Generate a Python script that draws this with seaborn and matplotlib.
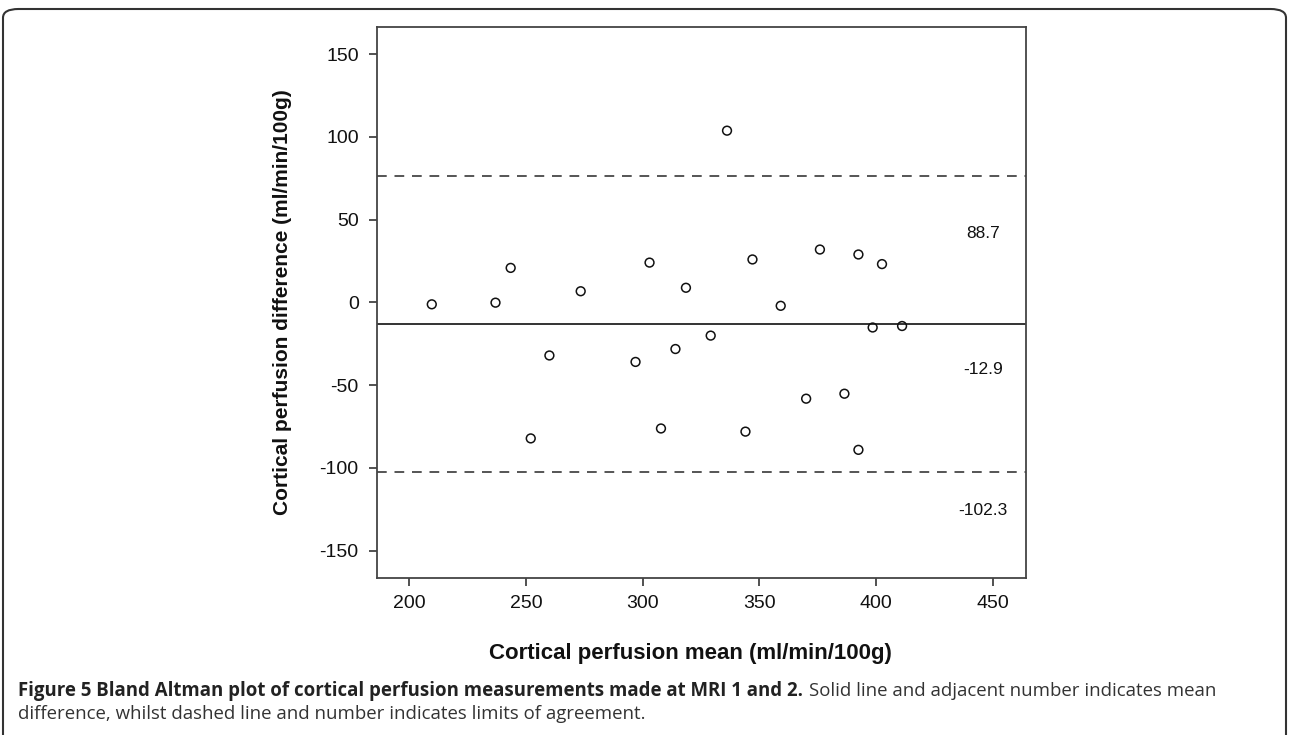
import numpy as np
import pandas as pd
import matplotlib.pyplot as plt
import seaborn as sns
from matplotlib.patches import FancyBboxPatch

# values
perf_mean = [209.6, 236.9, 243.4, 273.4, 260.0, 252.0, 296.9, 302.9, 307.8, 314.0, 318.5, 329.1,
             336.1, 344.0, 347.0, 359.1, 370.0, 375.9, 386.4, 392.4, 392.4, 398.5, 402.5, 411.1]
perf_diff = [-1.2, -0.2, 20.8, 6.7, -32.1, -82.2, -36.0, 24.0, -76.2, -28.2, 8.8, -20.1,
             103.7, -78.1, 25.9, -2.1, -58.2, 31.9, -55.2, 28.9, -89.1, -15.2, 23.1, -14.3]
mean_line = -12.9
limit_lines = [76.5, -102.3]
line_labels = ['88.7', '-12.9', '-102.3']
xticks = [200, 250, 300, 350, 400, 450]
yticks = [-150, -100, -50, 0, 50, 100, 150]

df = pd.DataFrame({'mean': perf_mean, 'diff': perf_diff})

sns.set_style('white')
plt.rcParams['font.family'] = ['Liberation Sans', 'DejaVu Sans']
plt.rcParams['axes.unicode_minus'] = False

fig = plt.figure(figsize=(12.89, 7.35), dpi=100)
ax = fig.add_axes([376.7 / 1289, 1 - 578.3 / 735, (1026 - 376.7) / 1289, (578.3 - 26.7) / 735])

sns.scatterplot(data=df, x='mean', y='diff', ax=ax, marker='o', s=40,
                facecolors='none', edgecolor='#111111', linewidth=1.1, zorder=3)

ax.axhline(mean_line, color='#333333', lw=1.4)
for v in limit_lines:
    ax.axhline(v, color='#555555', lw=1.4, ls=(0, (5, 4)))

# numbers beside the lines
label_y = [41.8, -40.4, -125.9]
for txt, yy in zip(line_labels, label_y):
    ax.text(445.7, yy, txt, ha='center', va='center', fontsize=12.5, color='#111111')

ax.set_xlim(186, 464.2)
ax.set_ylim(-166.7, 166.5)
ax.set_xticks(xticks)
ax.set_yticks(yticks)
ax.tick_params(axis='both', direction='out', length=6, width=1.2, color='#333333',
               labelsize=14, labelcolor='#111111', left=True, bottom=True)
ax.tick_params(axis='y', pad=7)
ax.tick_params(axis='x', pad=6)
for sp in ax.spines.values():
    sp.set_color('#444444')
    sp.set_linewidth(1.3)

ax.set_xlabel('')
ax.set_ylabel('')
fig.text(690, 735 - 653, 'Cortical perfusion mean (ml/min/100g)', transform=None,
         ha='center', va='center', fontsize=16, fontweight='bold', color='#111111')
fig.text(282, 735 - 302.5, 'Cortical perfusion difference (ml/min/100g)', transform=None,
         ha='center', va='center', rotation=90, fontsize=15, fontweight='bold', color='#111111')

# caption
cap_font = ['Open Sans', 'DejaVu Sans']
t1 = fig.text(18, 735 - 691, 'Figure 5 Bland Altman plot of cortical perfusion measurements made at MRI 1 and 2.',
              transform=None, ha='left', va='center', fontsize=13.4, fontweight='bold',
              family=cap_font, color='#222222')
fig.canvas.draw()
bb = t1.get_window_extent()
fig.text(bb.x1 + 6, 735 - 691, 'Solid line and adjacent number indicates mean',
         transform=None, ha='left', va='center', fontsize=13.4, family=cap_font, color='#333333')
fig.text(18, 735 - 714, 'difference, whilst dashed line and number indicates limits of agreement.',
         transform=None, ha='left', va='center', fontsize=13.4, family=cap_font, color='#333333')

# rounded border round the figure
box = FancyBboxPatch((3 / 1289, -0.05), 1283 / 1289, 1.05 - 9 / 735,
                     boxstyle='round,pad=0,rounding_size=0.012', transform=fig.transFigure,
                     fill=False, ec='#333333', lw=1.5)
fig.patches.append(box)

fig.savefig('out.png', dpi=100)
